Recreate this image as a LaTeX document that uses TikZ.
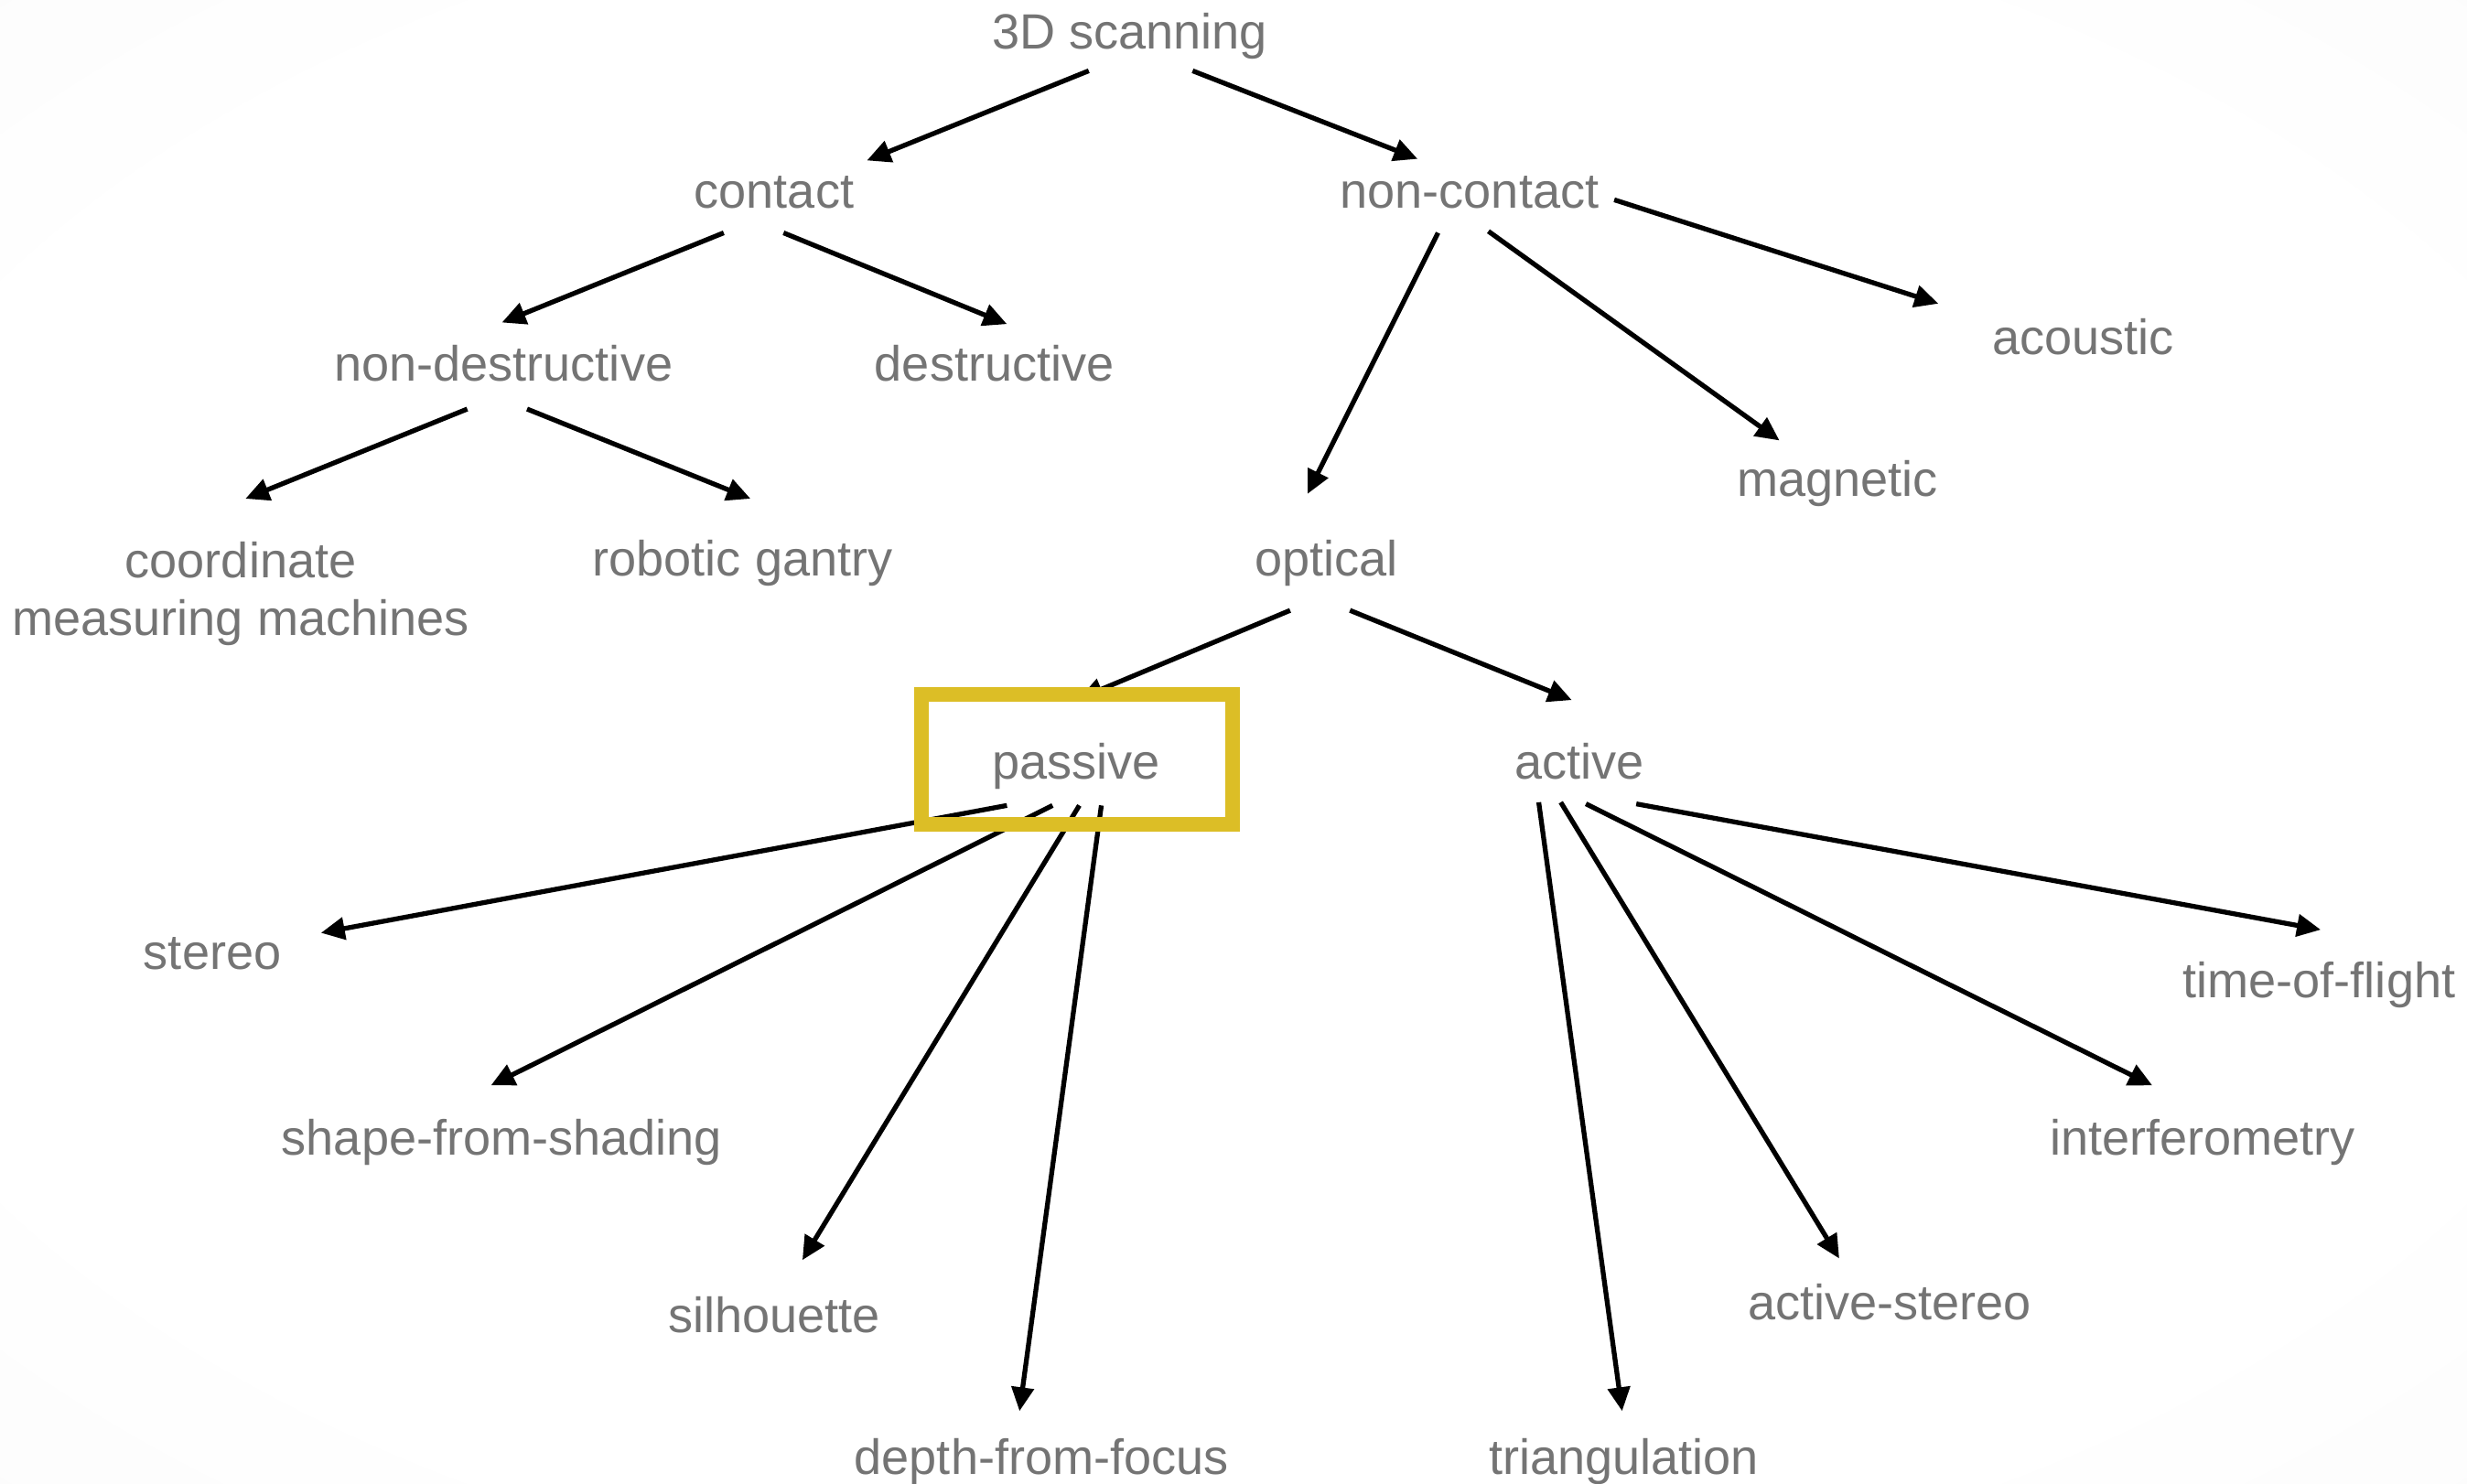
\documentclass[tikz,border=0pt]{standalone}
\usepackage{fontspec}
\setmainfont{Liberation Sans}
\usetikzlibrary{arrows.meta}
\definecolor{txt}{RGB}{116,116,116}
\definecolor{hl}{RGB}{220,190,38}
\pgfdeclareradialshading{bgshade}{\pgfpoint{0bp}{0bp}}{color(0bp)=(white); color(28bp)=(white); color(50bp)=(gray!6); color(72bp)=(gray!13)}
\begin{document}
\begin{tikzpicture}[x=0.017194cm,y=-0.017194cm,
  lbl/.style={text=txt,font=\fontsize{15.4}{18}\selectfont,inner sep=0pt,text height=1.1em,text depth=0.1em,align=center},
  arr/.style={-{Triangle[length=0.26cm,width=0.24cm]},line width=1.5pt,black},
  hlbox/.style={draw=hl,line width=4.5pt}]
\shade[shading=bgshade] (0,0) rectangle (1568,943);
\useasboundingbox (0,0) rectangle (1568,943);
% nodes
\node[lbl] (top) at (718,21) {3D scanning};
\node[lbl] (contact) at (492,122) {contact};
\node[lbl] (noncontact) at (934,122) {non-contact};
\node[lbl] (nondes) at (320,232) {non-destructive};
\node[lbl] (des) at (632,232) {destructive};
\node[lbl] (acoustic) at (1324,215) {acoustic};
\node[lbl] (magnetic) at (1168,305) {magnetic};
\node[lbl,text height=,text depth=] (coord) at (153,377.5) {coordinate\\measuring machines};
\node[lbl] (robotic) at (472,356) {robotic gantry};
\node[lbl] (optical) at (843,356) {optical};
\node[lbl] (passive) at (684,485) {passive};
\node[lbl] (active) at (1004,485) {active};
\node[lbl] (stereo) at (135,606) {stereo};
\node[lbl] (shape) at (319,724) {shape-from-shading};
\node[lbl] (sil) at (492,837) {silhouette};
\node[lbl] (depth) at (662,927) {depth-from-focus};
\node[lbl] (tri) at (1032,927) {triangulation};
\node[lbl] (astereo) at (1201,829) {active-stereo};
\node[lbl] (interf) at (1400,724) {interferometry};
\node[lbl] (tof) at (1474,624) {time-of-flight};
% connectors
\draw[arr] ([shift={(-26,24)}]top.center) -- ([shift={(59,-20)}]contact.center);
\draw[arr] ([shift={(40,24)}]top.center) -- ([shift={(-33,-21)}]noncontact.center);
\draw[arr] ([shift={(-32,26)}]contact.center) -- ([shift={(-1,-27)}]nondes.center);
\draw[arr] ([shift={(6,26)}]contact.center) -- ([shift={(8,-26)}]des.center);
\draw[arr] ([shift={(-20,26)}]noncontact.center) -- ([shift={(-12,-42)}]optical.center);
\draw[arr] ([shift={(12,25)}]noncontact.center) -- ([shift={(-37,-25)}]magnetic.center);
\draw[arr] ([shift={(92,5)}]noncontact.center) -- ([shift={(-92,-22)}]acoustic.center);
\draw[arr] ([shift={(-23,28)}]nondes.center) -- ([shift={(3,-60.5)}]coord.center);
\draw[arr] ([shift={(15,28)}]nondes.center) -- ([shift={(5,-39)}]robotic.center);
\draw[arr] ([shift={(-23,32)}]optical.center) -- ([shift={(2,-41)}]passive.center);
\draw[arr] ([shift={(15,32)}]optical.center) -- ([shift={(-5,-40)}]active.center);
\draw[arr] ([shift={(-44,27)}]passive.center) -- ([shift={(69,-13)}]stereo.center);
\draw[arr] ([shift={(-15,27)}]passive.center) -- ([shift={(-7,-34)}]shape.center);
\draw[arr] ([shift={(2,27)}]passive.center) -- ([shift={(18,-36)}]sil.center);
\draw[arr] ([shift={(16,27)}]passive.center) -- ([shift={(-14,-30)}]depth.center);
\draw[arr] ([shift={(-26,25)}]active.center) -- ([shift={(-1,-30)}]tri.center);
\draw[arr] ([shift={(-12,25)}]active.center) -- ([shift={(-32,-29)}]astereo.center);
\draw[arr] ([shift={(4,26)}]active.center) -- ([shift={(-32,-34)}]interf.center);
\draw[arr] ([shift={(36,26)}]active.center) -- ([shift={(1,-33)}]tof.center);
% highlight box
\draw[hlbox] ([shift={(-98.3,-43.6)}]passive.center) rectangle ([shift={(99.4,39)}]passive.center);
\end{tikzpicture}
\end{document}
